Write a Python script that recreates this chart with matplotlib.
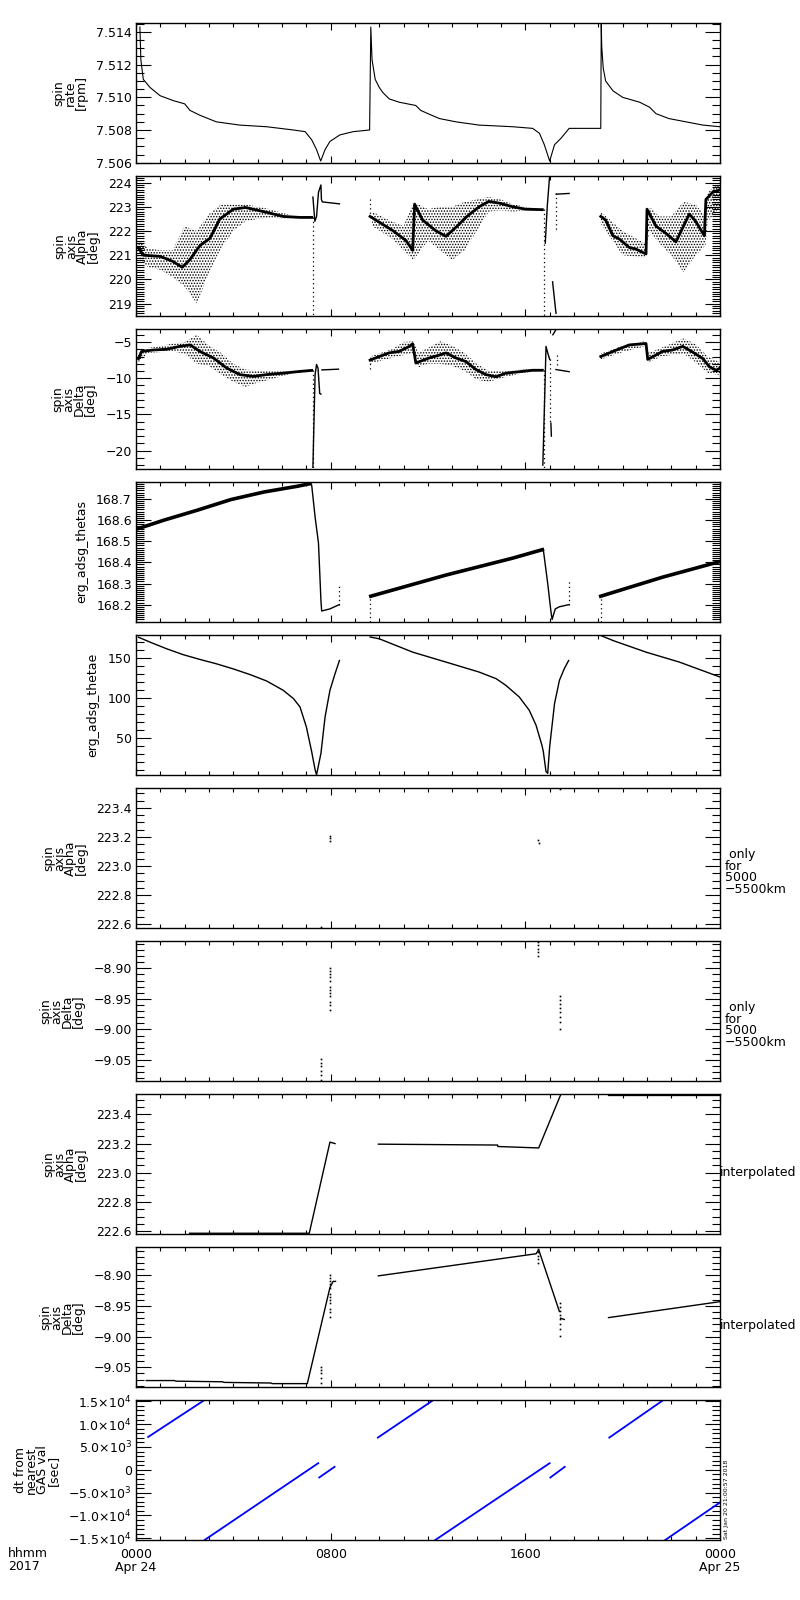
import numpy as np
import matplotlib
matplotlib.use('Agg')
import matplotlib.pyplot as plt
from matplotlib.ticker import MultipleLocator, FixedLocator, FuncFormatter

plt.rcParams['font.family'] = ['DejaVu Sans']
plt.rcParams['hatch.linewidth'] = 0.7

NaN = np.nan

# ---------------- data (time in hours from 2017-04-24 00:00 UT) ----------------
# Panel 1: spin rate [rpm]
rate_t = [0.16, 0.2, 0.3, 0.58, 0.99, 1.53, 2.0, 2.22, 2.63, 3.3, 4.27, 5.37, 6.47, 6.95, 7.22, 7.42, 7.59, 7.77, 7.97, 8.38, 8.93, 9.6,
          9.65, 9.7, 9.83, 10.0, 10.14, 10.41, 10.82, 11.5, 11.7, 12.0, 12.47, 13.15, 14.1, 15.48, 16.3, 16.58, 16.78, 17.0, 17.2, 17.47, 17.8, 18.5, 19.1,
          19.12, 19.14, 19.2, 19.3, 19.6, 20.0, 20.7, 21.1, 21.37, 21.9, 22.6, 23.3, 24.0]
rate_v = [7.5143, 7.5123, 7.5111, 7.5106, 7.5101, 7.5098, 7.5096, 7.5092, 7.5089, 7.5085, 7.5083, 7.5082, 7.5080, 7.5079, 7.5074, 7.5068, 7.5061, 7.5068, 7.5073, 7.5077, 7.5079, 7.5080,
          7.5143, 7.5123, 7.5111, 7.5106, 7.5103, 7.5099, 7.5097, 7.5095, 7.5092, 7.5090, 7.5087, 7.5085, 7.5083, 7.5082, 7.5081, 7.5078, 7.5071, 7.5061, 7.5071, 7.5075, 7.5081, 7.5081, 7.5081,
          7.5145, 7.5131, 7.5118, 7.5110, 7.5104, 7.5100, 7.5097, 7.5094, 7.5090, 7.5087, 7.5085, 7.5083, 7.5082]

# Panel 2: spin axis Alpha [deg] (dense band centre, thin spikes, scatter envelope, dotted drops)
alpha_t = [0.1, 0.3, 1.0, 1.5, 1.9, 2.2, 2.63, 3.04, 3.45, 4.0, 4.5, 5.37, 6.05, 6.74, 7.22, NaN,
           9.62, 10.0, 10.55, 11.1, 11.37, 11.45, 11.78, 12.33, 12.74, 13.2, 13.6, 14.1, 14.5, 14.93, 15.48, 16.0, 16.7, NaN,
           19.1, 19.3, 19.6, 19.86, 20.27, 20.55, 20.96, 21.0, 21.37, 21.78, 22.19, 22.5, 22.74, 23.0, 23.36, 23.42, 23.7, 24.0]
alpha_v = [221.3, 221.0, 220.95, 220.75, 220.5, 220.8, 221.4, 221.7, 222.5, 222.9, 222.97, 222.77, 222.6, 222.56, 222.56, NaN,
           222.6, 222.36, 222.02, 221.6, 221.2, 223.1, 222.45, 222.0, 221.78, 222.2, 222.6, 223.0, 223.22, 223.15, 223.0, 222.9, 222.88, NaN,
           222.6, 222.45, 221.8, 221.67, 221.32, 221.25, 221.05, 222.9, 222.2, 221.9, 221.55, 222.2, 222.7, 222.4, 221.8, 223.3, 223.6, 223.7]
alpha_spike_t = [7.27, 7.35, 7.42, 7.5, 7.6, 7.62, 7.66, 8.36, NaN,
                 16.82, 16.9, 17.0, NaN, 17.12, 17.26, NaN, 17.27, 17.8]
alpha_spike_v = [223.4, 222.4, 222.6, 223.6, 223.9, 223.3, 223.2, 223.12, NaN,
                 221.5, 223.0, 224.3, NaN, 219.9, 218.6, NaN, 223.52, 223.55]
alpha_env_t = [0.1, 0.5, 1.0, 1.5, 2.0, 2.5, 3.0, 3.5, 4.0, 4.5, 5.0, 5.5, 6.0, 6.5, 7.0, NaN,
               9.7, 10.5, 11.0, 11.4, 12.0, 12.5, 13.0, 13.5, 14.0, 14.5, 15.0, 15.5, 16.0, 16.7, NaN,
               19.1, 20.0, 20.9, 21.1, 21.5, 22.0, 22.5, 23.0, 23.4, 23.5, 24.0]
alpha_env_lo = [220.9, 220.5, 220.4, 220.1, 219.7, 219.0, 220.3, 221.3, 222.0, 222.4, 222.5, 222.55, 222.5, 222.52, 222.55, NaN,
                222.2, 221.7, 221.2, 220.8, 221.6, 221.2, 220.8, 221.2, 222.0, 222.8, 222.85, 222.8, 222.85, 222.85, NaN,
                222.3, 221.0, 220.9, 222.0, 221.5, 221.0, 220.3, 221.0, 221.4, 222.4, 223.0]
alpha_env_hi = [221.6, 221.3, 221.2, 221.2, 222.2, 222.0, 222.7, 223.1, 223.1, 223.1, 223.0, 222.9, 222.75, 222.62, 222.58, NaN,
                222.8, 222.4, 222.2, 223.2, 222.9, 223.0, 223.0, 223.2, 223.3, 223.4, 223.3, 223.1, 223.0, 222.9, NaN,
                222.8, 222.0, 221.5, 223.0, 222.6, 222.6, 223.2, 223.1, 222.6, 223.6, 224.0]
alpha_drop_t = [7.27, 7.27, NaN, 9.62, 9.62, NaN, 16.75, 16.75, NaN, 17.28, 17.28]
alpha_drop_v = [222.56, 218.45, NaN, 223.3, 222.6, NaN, 222.9, 218.45, NaN, 223.55, 222.0]

# Panel 3: spin axis Delta [deg]
delta_t = [0.1, 0.23, 0.71, 1.26, 1.8, 2.22, 2.63, 3.18, 3.73, 4.27, 4.82, 5.37, 6.05, 6.74, 7.22, NaN,
           9.62, 10.0, 10.4, 10.82, 11.23, 11.37, 11.5, 12.05, 12.47, 12.74, 13.15, 13.56, 13.97, 14.38, 14.8, 15.2, 15.75, 16.3, 16.7, NaN,
           19.1, 19.6, 20.27, 20.96, 21.03, 21.64, 22.05, 22.47, 22.88, 23.3, 23.56, 23.84, 24.0]
delta_v = [-7.3, -6.3, -6.1, -6.0, -5.6, -5.4, -6.3, -7.2, -8.6, -9.5, -9.75, -9.5, -9.3, -9.06, -8.92, NaN,
           -7.5, -7.0, -6.5, -6.3, -5.6, -5.25, -7.9, -7.2, -6.8, -6.5, -7.2, -7.7, -8.8, -9.5, -9.8, -9.3, -9.1, -8.9, -8.9, NaN,
           -7.0, -6.3, -5.4, -5.2, -7.4, -6.3, -6.1, -5.6, -6.4, -7.3, -8.4, -8.9, -8.6]
delta_spike_t = [7.27, 7.36, 7.42, 7.48, 7.55, 7.6, NaN, 7.64, 8.32, NaN,
                 16.72, 16.8, 16.85, 16.92, 17.0, NaN, 17.05, 17.07, NaN, 17.13, 17.24, NaN, 17.26, 17.8]
delta_spike_v = [-22.3, -9.5, -8.1, -8.6, -12.1, -12.2, NaN, -8.85, -8.75, NaN,
                 -22.0, -12.0, -5.6, -6.5, -7.4, NaN, -16.2, -18.0, NaN, -4.0, -3.4, NaN, -8.8, -9.1]
delta_env_t = [0.1, 0.5, 1.0, 1.5, 2.0, 2.5, 3.0, 3.5, 4.0, 4.5, 5.0, 5.5, 6.0, 6.5, 7.2, NaN,
               9.62, 10.5, 11.0, 11.4, 11.6, 12.0, 12.5, 13.0, 13.5, 14.0, 14.5, 15.0, 15.5, 16.0, 16.7, NaN,
               19.1, 20.0, 20.9, 21.05, 21.6, 22.0, 22.5, 23.0, 23.5, 24.0]
delta_env_hi = [-6.5, -5.8, -5.6, -5.2, -5.0, -4.0, -5.5, -6.5, -8.0, -8.8, -9.0, -9.0, -9.0, -8.95, -8.85, NaN,
                -7.0, -6.0, -5.0, -4.9, -6.5, -5.8, -4.9, -5.5, -6.5, -8.0, -9.0, -9.0, -8.9, -8.8, -8.85, NaN,
                -6.6, -5.5, -4.9, -6.5, -5.8, -5.2, -4.5, -5.3, -7.0, -7.8]
delta_env_lo = [-7.8, -6.5, -6.4, -6.3, -6.6, -8.0, -8.3, -9.5, -10.5, -11.2, -10.6, -10.2, -9.7, -9.3, -9.0, NaN,
                -8.0, -7.2, -6.8, -6.5, -8.5, -8.0, -8.0, -8.3, -9.0, -10.2, -10.5, -10.0, -9.6, -9.2, -9.0, NaN,
                -7.4, -6.4, -5.6, -7.8, -7.0, -6.8, -6.6, -7.8, -9.3, -9.6]
delta_drop_t = [7.27, 7.27, NaN, 9.62, 9.62, NaN, 16.75, 16.75, NaN, 17.02, 17.02, NaN, 17.3, 17.3]
delta_drop_v = [-8.9, -22.5, NaN, -7.3, -9.2, NaN, -8.9, -22.5, NaN, -7.4, -16.2, NaN, -6.8, -8.5]

# Panel 4: erg_adsg_thetas
thetas_t = [0.1, 1.16, 2.53, 3.9, 5.27, 6.64, 7.15, 7.22, 7.36, 7.5, 7.6, 7.63, 7.97, 8.35, NaN,
            9.65, 12.74, 15.48, 16.7, 16.75, 16.92, 17.05, 17.1, 17.23, 17.4, 17.78, NaN,
            19.1, 21.64, 24.0]
thetas_v = [168.56, 168.60, 168.647, 168.697, 168.733, 168.76, 168.772, 168.765, 168.615, 168.49, 168.22, 168.17, 168.18, 168.2, NaN,
            168.24, 168.34, 168.42, 168.46, 168.45, 168.30, 168.17, 168.13, 168.18, 168.19, 168.2, NaN,
            168.24, 168.33, 168.404]
thetas_band_t = [0.1, 1.16, 2.53, 3.9, 5.27, 6.64, 7.15, NaN, 9.65, 12.74, 15.48, 16.7, NaN, 19.1, 21.64, 24.0]
thetas_band_v = [168.56, 168.60, 168.647, 168.697, 168.733, 168.76, 168.772, NaN, 168.24, 168.34, 168.42, 168.46, NaN, 168.24, 168.33, 168.404]
thetas_drop_t = [8.36, 8.36, NaN, 9.62, 9.62, NaN, 17.8, 17.8, NaN, 19.1, 19.1]
thetas_drop_v = [168.2, 168.3, NaN, 168.118, 168.24, NaN, 168.2, 168.32, NaN, 168.118, 168.24]

# Panel 5: erg_adsg_thetae
thetae_t = [0.1, 0.58, 1.26, 1.95, 2.63, 3.3, 3.97, 4.7, 5.37, 6.05, 6.47, 6.74, 7.0, 7.22, 7.36, 7.42, 7.6, 7.77, 7.97, 8.18, 8.36, NaN,
            9.62, 10.0, 11.37, 12.74, 14.1, 14.8, 15.2, 15.75, 16.16, 16.44, 16.68, 16.74, 16.85, 16.92, 17.0, 17.2, 17.4, 17.6, 17.78, NaN,
            19.1, 19.6, 20.96, 22.33, 24.0]
thetae_v = [176.25, 170, 161.7, 154.2, 148.3, 142.9, 136.7, 129.2, 121.25, 109.6, 99.2, 88.75, 63.75, 32.5, 10, 3.5, 30.4, 76.25, 109.6, 130.4, 147, NaN,
            176.5, 174.2, 157.5, 145, 132.5, 124.2, 115.8, 101.25, 84.6, 65.8, 40.8, 32.5, 7.5, 5.4, 38.75, 92.9, 122, 136.7, 147, NaN,
            178.4, 172.1, 157.5, 145, 126.25]

# Panels 6/7: spin axis samples only for 5000-5500 km
only_alpha_t = [7.6, 7.97, 7.97, 7.98, 16.53, 16.56, 17.44]
only_alpha_v = [222.58, 223.21, 223.19, 223.17, 223.18, 223.16, 223.53]
only_delta_t = [7.97, 7.97, 7.97, 7.97, 7.97, 7.97, 7.97, 7.97, 7.97, 7.97, 7.97, 7.97,
                7.6, 7.6, 7.6, 7.6, 7.6, 7.6,
                16.53, 16.53, 16.53, 16.53, 16.53,
                17.44, 17.44, 17.44, 17.44, 17.44, 17.44, 17.44, 17.44]
only_delta_v = [-8.900, -8.905, -8.910, -8.915, -8.920, -8.930, -8.935, -8.940, -8.945, -8.955, -8.960, -8.968,
                -9.049, -9.055, -9.060, -9.068, -9.075, -9.083,
                -8.857, -8.862, -8.868, -8.874, -8.880,
                -8.946, -8.952, -8.958, -8.965, -8.972, -8.980, -8.988, -8.999]

# Panels 8/9: interpolated spin axis
ialpha_t = [2.2, 7.12, 7.97, 8.18, NaN, 9.96, 14.86, 14.87, 16.55, 17.44, NaN, 19.42, 24.0]
ialpha_v = [222.585, 222.585, 223.21, 223.2, NaN, 223.196, 223.19, 223.18, 223.17, 223.53, NaN, 223.53, 223.53]
idelta_t = [0.42, 1.58, 1.65, 3.56, 3.62, 5.54, 5.6, 7.04, 7.97, 8.1, 8.2, NaN,
            9.96, 16.44, 16.55, 17.4, NaN, 17.45, 17.6, NaN, 19.42, 24.0]
idelta_v = [-9.0715, -9.0715, -9.0725, -9.0735, -9.0745, -9.0755, -9.0765, -9.0765, -8.92, -8.91, -8.91, NaN,
            -8.901, -8.865, -8.8585, -8.959, NaN, -8.97, -8.972, NaN, -8.969, -8.943]

# Panel 10: dt from nearest GAS val [sec]
dt_t = [0.5, 2.82, NaN, 2.82, 7.49, NaN, 7.53, 8.16, NaN, 9.94, 12.2, NaN, 12.3, 17.0, NaN,
        17.03, 17.62, NaN, 19.45, 21.65, NaN, 21.75, 24.0]
dt_v = [7200, 15300, NaN, -15360, 1456, NaN, -1675, 655, NaN, 7060, 15200, NaN, -15360, 1456, NaN,
        -1675, 655, NaN, 7060, 15200, NaN, -15360, -7140]

xtick_pos = [0, 8, 16, 24]
xtick_lab = ['0000\nApr 24', '0800', '1600', '0000\nApr 25']
dt_tick_pos = [-15000, -10000, -5000, 0, 5000, 10000, 15000]
dt_tick_lab = [r'$-1.5{\times}10^{4}$', r'$-1.0{\times}10^{4}$', r'$-5.0{\times}10^{3}$', '0',
               r'$5.0{\times}10^{3}$', r'$1.0{\times}10^{4}$', r'$1.5{\times}10^{4}$']

ylabels = ['spin\nrate\n[rpm]', 'spin\naxis\nAlpha\n[deg]', 'spin\naxis\nDelta\n[deg]',
           'erg_adsg_thetas', 'erg_adsg_thetae',
           'spin\naxis\nAlpha\n[deg]', 'spin\naxis\nDelta\n[deg]',
           'spin\naxis\nAlpha\n[deg]', 'spin\naxis\nDelta\n[deg]',
           'dt from\nnearest\nGAS val\n[sec]']
ylims = [(7.50598, 7.51455), (218.49, 224.27), (-22.54, -3.2), (168.118, 168.78), (3.3, 179),
         (222.575, 223.537), (-9.0842, -8.8554), (222.58, 223.54), (-9.082, -8.854), (-15365, 15290)]
ymajor = [0.002, 1, 5, 0.1, 50, 0.2, 0.05, 0.2, 0.05, 5000]
yminor = [0.0005, 0.1, 1, 0.01, 10, 0.05, 0.01, 0.05, 0.01, 1000]
yfmt = ['{:.3f}', '{:.0f}', '{:.0f}', '{:.1f}', '{:.0f}', '{:.1f}', '{:.2f}', '{:.1f}', '{:.2f}', None]

# ---------------- figure ----------------
W, H = 800, 1600
fig = plt.figure(figsize=(8, 16), dpi=100)
left_px, right_px = 136, 720
top0, ph, stride = 23, 140, 153
FS = 9

axes = []
for i in range(10):
    top = top0 + stride * i
    ax = fig.add_axes([left_px / W, 1 - (top + ph) / H, (right_px - left_px) / W, ph / H])
    axes.append(ax)
    ax.set_xlim(0, 24)
    ax.set_ylim(*ylims[i])
    ax.xaxis.set_major_locator(FixedLocator(xtick_pos))
    ax.xaxis.set_minor_locator(MultipleLocator(1))
    ax.yaxis.set_major_locator(MultipleLocator(ymajor[i]))
    ax.yaxis.set_minor_locator(MultipleLocator(yminor[i]))
    ax.tick_params(axis='x', which='major', direction='in', length=5, width=0.8, top=True, bottom=True, labelsize=FS, pad=6)
    ax.tick_params(axis='x', which='minor', direction='in', length=3, width=0.8, top=True, bottom=True)
    ax.tick_params(axis='y', which='major', direction='in', length=11, width=0.8, left=True, right=True, labelsize=FS, pad=3)
    ax.tick_params(axis='y', which='minor', direction='in', length=6, width=0.8, left=True, right=True)
    for s in ax.spines.values():
        s.set_linewidth(1.0)
    if i < 9:
        ax.set_xticklabels([])
    else:
        ax.set_xticklabels(xtick_lab, linespacing=1.0)
    if yfmt[i] is not None:
        f = yfmt[i]
        ax.yaxis.set_major_formatter(FuncFormatter(lambda v, p, f=f: f.format(v).replace('-', '\u2212')))
    ax.set_ylabel(ylabels[i], fontsize=FS, linespacing=0.8, labelpad=6)

ax = axes[0]
ax.plot(rate_t, rate_v, color='k', lw=0.8)

ax = axes[1]
ax.fill_between(alpha_env_t, alpha_env_lo, alpha_env_hi, facecolor='none', edgecolor='k', hatch='......', lw=0)
ax.plot(alpha_t, alpha_v, color='k', lw=2.0, solid_joinstyle='round')
ax.plot(alpha_spike_t, alpha_spike_v, color='k', lw=1.0)
ax.plot(alpha_drop_t, alpha_drop_v, color='k', lw=0.9, ls=(0, (1, 2.5)))

ax = axes[2]
ax.fill_between(delta_env_t, delta_env_lo, delta_env_hi, facecolor='none', edgecolor='k', hatch='......', lw=0)
ax.plot(delta_t, delta_v, color='k', lw=2.0, solid_joinstyle='round')
ax.plot(delta_spike_t, delta_spike_v, color='k', lw=1.0)
ax.plot(delta_drop_t, delta_drop_v, color='k', lw=0.9, ls=(0, (1, 2.5)))

ax = axes[3]
ax.plot(thetas_t, thetas_v, color='k', lw=1.0)
ax.plot(thetas_band_t, thetas_band_v, color='k', lw=2.6)
ax.plot(thetas_drop_t, thetas_drop_v, color='k', lw=0.9, ls=(0, (1, 2.5)))

ax = axes[4]
ax.plot(thetae_t, thetae_v, color='k', lw=1.0)

axes[5].plot(only_alpha_t, only_alpha_v, 's', color='k', ms=1.2, mew=0)
axes[6].plot(only_delta_t, only_delta_v, 's', color='k', ms=1.2, mew=0)

axes[7].plot(ialpha_t, ialpha_v, color='k', lw=1.0)
axes[8].plot(idelta_t, idelta_v, color='k', lw=1.0)
axes[8].plot(only_delta_t, only_delta_v, 's', color='k', ms=1.2, mew=0)

ax = axes[9]
ax.plot(dt_t, dt_v, color='#0000ff', lw=1.3)
ax.yaxis.set_major_locator(FixedLocator(dt_tick_pos))
ax.set_yticklabels(dt_tick_lab)

# right-side annotations
for i in (5, 6):
    axes[i].text(1.008, 0.40, ' only\nfor\n5000\n\u22125500km', transform=axes[i].transAxes,
                 ha='left', va='center', fontsize=FS, linespacing=0.85)
for i in (7, 8):
    axes[i].text(1.0, 0.44, 'interpolated', transform=axes[i].transAxes,
                 ha='left', va='center', fontsize=FS)

fig.text(8 / W, 1 - 1547 / H, 'hhmm\n2017', ha='left', va='top', fontsize=FS, linespacing=1.0)
fig.text(724 / W, 1 - 1539 / H, 'Sat Jan 20 21:00:57 2018', rotation=90, ha='left', va='bottom', fontsize=4.5)

fig.savefig('out.png', dpi=100)
